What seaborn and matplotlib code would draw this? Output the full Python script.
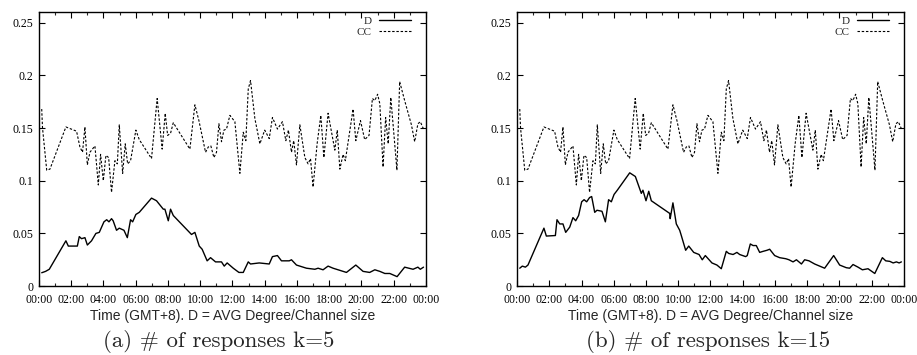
import matplotlib
matplotlib.use("Agg")
import matplotlib.pyplot as plt
from matplotlib.ticker import MultipleLocator
import pandas as pd
import seaborn as sns

# CC curve (same in both panels), hour of day -> value
cc_hours = [0.17, 0.22, 0.48, 0.68, 1.67, 2.33, 2.54, 2.70, 2.85, 3.00, 3.16, 3.47,
            3.68, 3.82, 3.99, 4.15, 4.32, 4.50, 4.71, 4.86, 4.98, 5.19, 5.35, 5.50,
            5.68, 6.01, 6.22, 6.98, 7.33, 7.64, 7.83, 7.98, 8.16, 8.33, 9.36, 9.67,
            9.92, 10.33, 10.50, 10.66, 10.85, 11.01, 11.16, 11.32, 11.47, 11.63, 11.84,
            12.15, 12.46, 12.67, 12.83, 12.98, 13.12, 13.39, 13.70, 14.00, 14.28, 14.48,
            14.79, 15.10, 15.31, 15.47, 15.66, 15.80, 15.97, 16.18, 16.49, 16.69, 16.84,
            17.00, 17.25, 17.48, 17.67, 17.93, 18.35, 18.50, 18.66, 18.86, 19.00, 19.48,
            19.65, 19.94, 20.20, 20.47, 20.68, 20.83, 21.00, 21.14, 21.34, 21.50, 21.66,
            21.82, 22.20, 22.37, 22.68, 23.10, 23.30, 23.50, 23.65, 23.85]
cc_values = [0.168, 0.150, 0.110, 0.111, 0.151, 0.147, 0.132, 0.127, 0.151, 0.115,
             0.127, 0.133, 0.096, 0.125, 0.100, 0.124, 0.122, 0.089, 0.119, 0.116,
             0.153, 0.107, 0.135, 0.116, 0.119, 0.148, 0.139, 0.121, 0.178, 0.130,
             0.164, 0.143, 0.145, 0.155, 0.130, 0.172, 0.157, 0.127, 0.132, 0.133,
             0.122, 0.127, 0.154, 0.137, 0.148, 0.149, 0.162, 0.156, 0.107, 0.146,
             0.138, 0.187, 0.195, 0.159, 0.135, 0.148, 0.140, 0.160, 0.149, 0.156,
             0.138, 0.148, 0.127, 0.138, 0.115, 0.153, 0.122, 0.116, 0.121, 0.094,
             0.135, 0.162, 0.122, 0.164, 0.129, 0.148, 0.111, 0.125, 0.119, 0.168,
             0.138, 0.157, 0.139, 0.143, 0.178, 0.176, 0.182, 0.173, 0.113, 0.160,
             0.135, 0.179, 0.110, 0.194, 0.176, 0.153, 0.137, 0.154, 0.156, 0.149]

# D curve, k=5
d5_hours = [0.17, 0.41, 0.64, 1.67, 1.82, 2.38, 2.50, 2.64, 2.85, 3.00, 3.26, 3.53,
            3.74, 4.03, 4.20, 4.34, 4.50, 4.60, 4.81, 4.98, 5.27, 5.48, 5.68, 5.81,
            6.01, 6.22, 6.98, 7.29, 7.71, 7.81, 8.02, 8.16, 8.33, 9.46, 9.67, 9.94,
            10.12, 10.43, 10.64, 10.95, 11.32, 11.49, 11.67, 12.05, 12.40, 12.67, 12.98,
            13.12, 13.66, 14.28, 14.48, 14.79, 15.04, 15.52, 15.66, 15.97, 16.59, 17.11,
            17.31, 17.62, 17.93, 18.24, 19.07, 19.65, 20.10, 20.51, 20.83, 21.14, 21.45,
            21.76, 22.21, 22.68, 23.20, 23.50, 23.65, 23.85]
d5_values = [0.0127, 0.014, 0.016, 0.043, 0.038, 0.038, 0.047, 0.045, 0.046, 0.039,
             0.043, 0.050, 0.051, 0.061, 0.063, 0.061, 0.064, 0.062, 0.053, 0.055,
             0.053, 0.046, 0.063, 0.061, 0.068, 0.070, 0.0835, 0.081, 0.073, 0.073,
             0.062, 0.073, 0.067, 0.049, 0.051, 0.038, 0.035, 0.024, 0.027, 0.023,
             0.023, 0.019, 0.022, 0.017, 0.013, 0.013, 0.023, 0.021, 0.022, 0.021,
             0.028, 0.029, 0.024, 0.024, 0.025, 0.020, 0.017, 0.016, 0.017, 0.0155,
             0.019, 0.017, 0.013, 0.020, 0.014, 0.013, 0.0155, 0.014, 0.012, 0.012,
             0.009, 0.018, 0.016, 0.018, 0.016, 0.018]

# D curve, k=15
d15_hours = [0.17, 0.33, 0.52, 0.68, 1.67, 1.82, 2.38, 2.48, 2.65, 2.85, 3.02, 3.27,
             3.47, 3.64, 3.82, 4.01, 4.16, 4.32, 4.50, 4.63, 4.82, 4.96, 5.27, 5.48,
             5.68, 5.85, 6.02, 6.22, 6.99, 7.34, 7.71, 7.81, 8.00, 8.17, 8.33, 9.47,
             9.50, 9.67, 9.88, 10.09, 10.19, 10.46, 10.65, 10.96, 11.29, 11.49, 11.68,
             12.09, 12.40, 12.67, 12.98, 13.13, 13.40, 13.64, 13.81, 14.18, 14.28, 14.47,
             14.64, 14.84, 15.05, 15.26, 15.50, 15.67, 15.98, 16.29, 16.67, 16.87, 17.12,
             17.33, 17.64, 17.84, 18.11, 18.46, 18.77, 19.08, 19.64, 20.01, 20.42, 20.63,
             20.84, 21.15, 21.42, 21.77, 22.19, 22.66, 22.87, 23.12, 23.33, 23.53, 23.70,
             23.84]
d15_values = [0.017, 0.019, 0.018, 0.020, 0.055, 0.0475, 0.048, 0.063, 0.059, 0.059,
              0.051, 0.056, 0.065, 0.062, 0.067, 0.080, 0.082, 0.080, 0.084, 0.085,
              0.070, 0.072, 0.071, 0.061, 0.082, 0.080, 0.087, 0.091, 0.1075, 0.104,
              0.088, 0.091, 0.081, 0.090, 0.081, 0.069, 0.064, 0.079, 0.059, 0.053,
              0.048, 0.034, 0.038, 0.032, 0.030, 0.025, 0.029, 0.022, 0.020, 0.0165,
              0.033, 0.031, 0.030, 0.032, 0.030, 0.028, 0.029, 0.040, 0.0385, 0.0385,
              0.032, 0.033, 0.034, 0.035, 0.029, 0.027, 0.026, 0.025, 0.023, 0.025,
              0.021, 0.025, 0.024, 0.021, 0.019, 0.017, 0.029, 0.020, 0.0175, 0.017,
              0.0205, 0.018, 0.0155, 0.0165, 0.012, 0.027, 0.024, 0.0235, 0.022, 0.023,
              0.022, 0.023]

x_ticks = list(range(0, 25, 2))
x_tick_labels = ["00:00", "02:00", "04:00", "06:00", "08:00", "10:00", "12:00",
                 "14:00", "16:00", "18:00", "20:00", "22:00", "00:00"]
y_ticks = [0, 0.05, 0.1, 0.15, 0.2, 0.25]
y_tick_labels = ["0", "0.05", "0.1", "0.15", "0.2", "0.25"]
x_label = "Time (GMT+8). D = AVG Degree/Channel size"
captions = ["(a) # of responses k=5", "(b) # of responses k=15"]
caption_x = [219 / 917, 708 / 917]

sns.set_style("ticks")
plt.rcParams["font.family"] = ["Liberation Serif", "DejaVu Serif"]

fig = plt.figure(figsize=(9.17, 3.55), dpi=100)
ax_left = fig.add_axes([0.0425, 0.194, 0.422, 0.772])
ax_right = fig.add_axes([0.5638, 0.194, 0.422, 0.772])

panels = [(ax_left, d5_hours, d5_values), (ax_right, d15_hours, d15_values)]
for i, (ax, d_hours, d_values) in enumerate(panels):
    d_df = pd.DataFrame({"hour": d_hours, "value": d_values})
    cc_df = pd.DataFrame({"hour": cc_hours, "value": cc_values})
    sns.lineplot(data=d_df, x="hour", y="value", ax=ax, color="black",
                 linewidth=1.0, estimator=None, label="D")
    sns.lineplot(data=cc_df, x="hour", y="value", ax=ax, color="black",
                 linewidth=0.8, estimator=None, label="CC",
                 linestyle=(0, (2.2, 1.6)))

    ax.set_xlim(0, 24)
    ax.set_ylim(0, 0.26)
    ax.set_xticks(x_ticks)
    ax.set_xticklabels(x_tick_labels)
    ax.xaxis.set_minor_locator(MultipleLocator(1))
    ax.set_yticks(y_ticks)
    ax.set_yticklabels(y_tick_labels)
    ax.tick_params(which="major", direction="in", length=4, width=0.8,
                   top=True, right=True, labelsize=8.5, colors="black")
    ax.tick_params(axis="y", pad=4)
    ax.tick_params(axis="x", pad=5.5)
    ax.tick_params(which="minor", direction="in", length=2, width=0.8,
                   top=True, right=True)
    for sp in ax.spines.values():
        sp.set_linewidth(1.0)
        sp.set_color("black")
        sp.set_visible(True)

    ax.set_ylabel("")
    ax.set_xlabel(x_label, family=["Liberation Sans", "DejaVu Sans"],
                  fontsize=10, labelpad=2)

    ax.legend(loc="upper right", bbox_to_anchor=(0.974, 1.0), frameon=False,
              markerfirst=False, fontsize=8, handlelength=2.9,
              handletextpad=0.7, labelspacing=0.1, borderaxespad=0)

    fig.text(caption_x[i], 0.039, captions[i],
             family=["cmr10", "DejaVu Serif"], fontsize=16.5,
             ha="center", va="center")

fig.savefig("out.png", dpi=100)
